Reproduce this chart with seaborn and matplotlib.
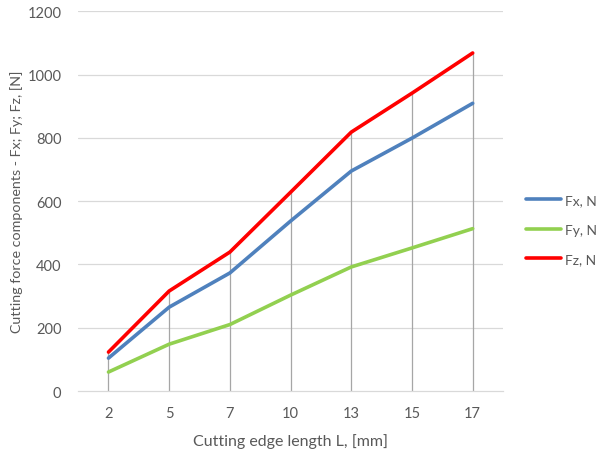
import pandas as pd
import seaborn as sns
import matplotlib.pyplot as plt
import numpy as np

# Data
lengths = ["2", "5", "7", "10", "13", "15", "17"]
fx = [104, 265, 373, 537, 695, 799, 909]
fy = [60, 148, 210, 303, 392, 452, 513]
fz = [123, 316, 439, 628, 818, 941, 1068]
series_names = ["Fx, N", "Fy, N", "Fz, N"]
colors = ["#4F81BD", "#92D050", "#FF0000"]

sns.set_theme(style="white")
plt.rcParams["font.family"] = ["Lato", "DejaVu Sans"]
text_color = "#595959"

pos = np.arange(len(lengths))
df = pd.DataFrame({
    "pos": np.tile(pos, 3),
    "value": fx + fy + fz,
    "series": np.repeat(series_names, len(lengths)),
})

fig = plt.figure(figsize=(6.01, 4.52), dpi=100)
ax = fig.add_axes([0.13, 0.1327, 0.707, 0.8403])

# horizontal gridlines
for yv in range(200, 1201, 200):
    ax.axhline(yv, color="#D9D9D9", lw=0.9, zorder=0)

# drop lines from the axis to the highest series
tops = np.max([fx, fy, fz], axis=0)
ax.vlines(pos, 0, tops, color="#A6A6A6", lw=0.9, zorder=1)

sns.lineplot(data=df, x="pos", y="value", hue="series", palette=colors,
             lw=2.6, ax=ax, legend=True, zorder=3)

ax.set_xlim(-0.5, len(lengths) - 0.5)
ax.set_ylim(0, 1200)
ax.set_xticks(pos)
ax.set_xticklabels(lengths)
ax.set_yticks(range(0, 1201, 200))
ax.tick_params(axis="x", length=0, labelsize=10.5, colors=text_color, pad=11)
ax.tick_params(axis="y", length=0, labelsize=10.5, colors=text_color, pad=12)

for s in ["top", "right", "left"]:
    ax.spines[s].set_visible(False)
ax.spines["bottom"].set_color("#D9D9D9")
ax.spines["bottom"].set_linewidth(0.9)

ax.set_xlabel("Cutting edge length L, [mm]", fontsize=11.5, color=text_color, labelpad=9)
ax.set_ylabel("Cutting force components - Fx; Fy; Fz, [N]", fontsize=10.3,
              color=text_color, labelpad=3)

handles, labels = ax.get_legend_handles_labels()
leg = ax.legend(handles, labels, loc="center left", bbox_to_anchor=(0.876, 0.49),
                bbox_transform=fig.transFigure, frameon=False, fontsize=10,
                handlelength=2.5, handletextpad=0.25, labelspacing=1.25,
                borderpad=0, borderaxespad=0)
for t in leg.get_texts():
    t.set_color(text_color)

fig.savefig("out.png", dpi=100)
